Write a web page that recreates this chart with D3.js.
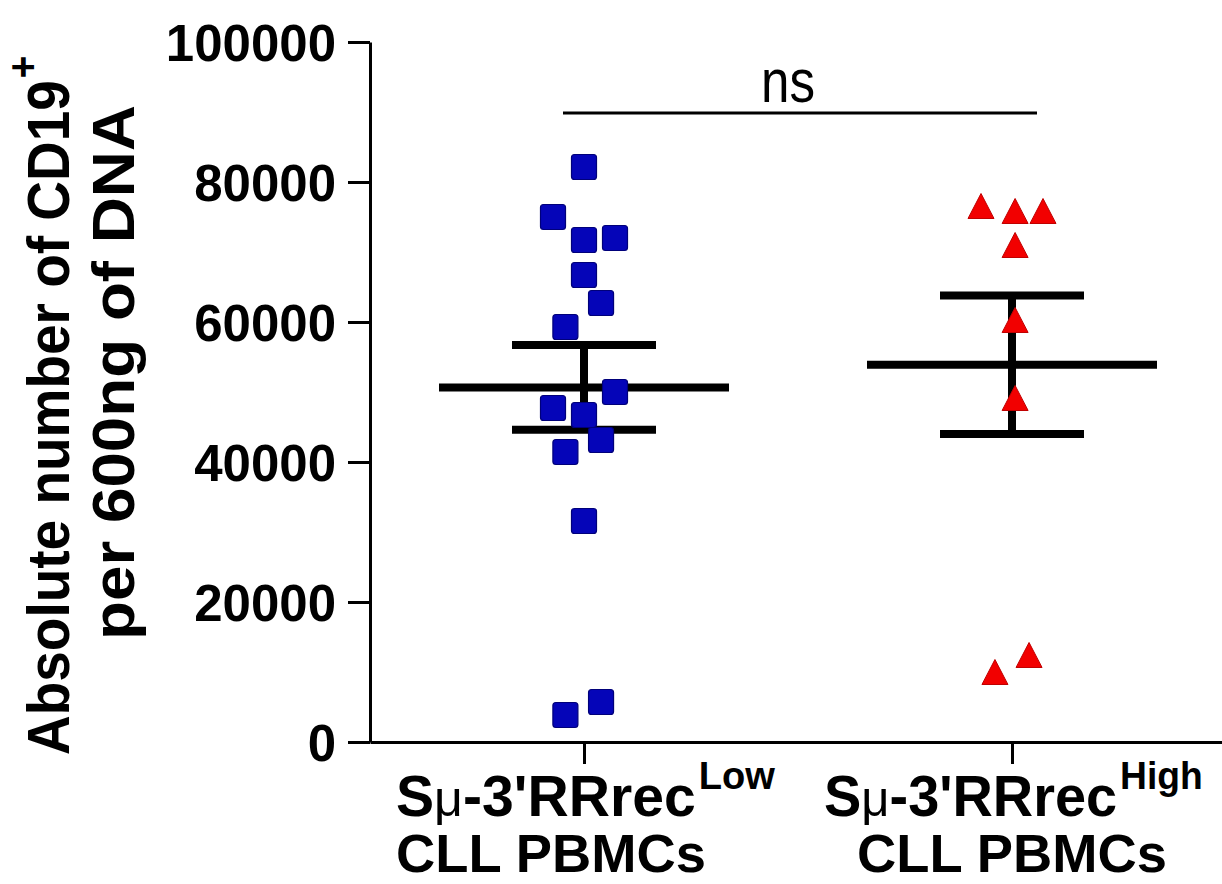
<!DOCTYPE html>
<html>
<head>
<meta charset="utf-8">
<script src="https://cdn.jsdelivr.net/npm/d3@7"></script>
<style>
  body { margin: 0; background: #fff; }
  svg { display: block; font-family: "Liberation Sans", Arial, sans-serif; }
</style>
</head>
<body>
<svg id="chart" width="1222" height="884"></svg>
<script>
// Data
var categories = ['low', 'high'];
var lowValues = [82143, 75000, 71714, 72000, 66714, 62714, 59286, 50000, 47714, 46714, 43143, 41429, 31571, 5714, 3857];
var highValues = [76571, 75857, 75857, 71000, 60286, 49143, 10000, 12429];
var yTicks = [0, 20000, 40000, 60000, 80000, 100000];
var labelTop = ['S', 'S'];
var labelSup = ['Low', 'High'];
var labelBottom = ['CLL PBMCs', 'CLL PBMCs'];
var sigLabel = 'ns';

// Horizontal scatter of the points (in marker widths) as in the figure
var lowSpread = [0, -1, 0, 1, 0, 0.55, -0.6, 1, -1, 0, 0.55, -0.6, 0, 0.55, -0.6];
var highSpread = [-1, 0.1, 1, 0.1, 0.1, 0.1, -0.55, 0.55];

// Layout
var markerStep = 31;
var svg = d3.select('#chart');

var y = d3.scaleLinear().domain([0, 100000]).range([742, 42]);
var x = d3.scalePoint().domain(categories).range([370, 1226]).padding(0.5);

// scale factor that brings a text to a given length along its baseline
function fit(g, target) {
  var len = g.select('text').node().getComputedTextLength();
  return target / len;
}

// Axes
var yAxis = d3.axisLeft(y)
  .tickValues(yTicks)
  .tickFormat(d3.format('d'))
  .tickSize(22)
  .tickSizeOuter(0)
  .tickPadding(12);

var gy = svg.append('g')
  .attr('transform', 'translate(370,0)')
  .call(yAxis);
gy.select('.domain').attr('stroke', '#000').attr('stroke-width', 3);
gy.selectAll('.tick line').attr('stroke', '#000').attr('stroke-width', 3);
gy.selectAll('.tick text')
  .attr('fill', '#000')
  .style('font-size', '51px')
  .style('font-weight', 'bold')
  .style('font-family', '"Liberation Sans", Arial, sans-serif')
  .attr('dy', '0.36em');

var xAxis = d3.axisBottom(x)
  .tickSize(22)
  .tickSizeOuter(0)
  .tickFormat('');

var gx = svg.append('g')
  .attr('transform', 'translate(0,742)')
  .call(xAxis);
gx.select('.domain').attr('stroke', '#000').attr('stroke-width', 3);
gx.selectAll('.tick line').attr('stroke', '#000').attr('stroke-width', 3);

// Mean +/- SEM
var groups = [
  {cat: 'low', values: lowValues},
  {cat: 'high', values: highValues}
];
groups.forEach(function(grp) {
  var m = d3.mean(grp.values);
  var sem = d3.deviation(grp.values) / Math.sqrt(grp.values.length);
  var cx = x(grp.cat);
  var eg = svg.append('g').attr('stroke', '#000').attr('stroke-width', 8);
  eg.append('line').attr('x1', cx).attr('x2', cx).attr('y1', y(m + sem)).attr('y2', y(m - sem));
  eg.append('line').attr('x1', cx - 145).attr('x2', cx + 145).attr('y1', y(m)).attr('y2', y(m));
  eg.append('line').attr('x1', cx - 72).attr('x2', cx + 72).attr('y1', y(m + sem)).attr('y2', y(m + sem));
  eg.append('line').attr('x1', cx - 72).attr('x2', cx + 72).attr('y1', y(m - sem)).attr('y2', y(m - sem));
});

// Squares
svg.append('g').selectAll('rect')
  .data(lowValues)
  .join('rect')
  .attr('x', function(d, i) { return x('low') + lowSpread[i] * markerStep - 12.5; })
  .attr('y', function(d) { return y(d) - 12.5; })
  .attr('width', 25)
  .attr('height', 25)
  .attr('rx', 3)
  .attr('fill', '#0505b8')
  .attr('stroke', '#00007a')
  .attr('stroke-width', 1.2);

// Triangles
svg.append('g').selectAll('path')
  .data(highValues)
  .join('path')
  .attr('d', 'M0,-12.5L13,12.5L-13,12.5Z')
  .attr('transform', function(d, i) {
    return 'translate(' + (x('high') + highSpread[i] * markerStep) + ',' + y(d) + ')';
  })
  .attr('fill', '#f20000')
  .attr('stroke', '#c00000')
  .attr('stroke-width', 1)
  .attr('stroke-linejoin', 'round');

// Significance bar
var sigY = 113;
svg.append('line')
  .attr('x1', x('low') - 21).attr('x2', x('high') + 25)
  .attr('y1', sigY).attr('y2', sigY)
  .attr('stroke', '#000').attr('stroke-width', 3);
var ns = svg.append('g');
ns.append('text').text(sigLabel)
  .style('font-size', '62px')
  .attr('text-anchor', 'middle');
ns.attr('transform', 'translate(' + ((x('low') + x('high')) / 2 - 10) + ',102) scale(' + fit(ns, 54) + ',1)');

// Y title
var t1 = svg.append('g');
var t1t = t1.append('text').style('font-size', '60px').style('font-weight', 'bold');
t1t.append('tspan').text('Absolute number of CD19');
var k1 = fit(t1, 675);
t1.attr('transform', 'translate(69,755) rotate(-90) scale(' + k1 + ',1)');
t1t.append('tspan').text('+').style('font-size', '42px').attr('dy', -32).attr('dx', 2);

var t2 = svg.append('g');
t2.append('text').text('per 600ng of DNA').style('font-size', '60px').style('font-weight', 'bold');
t2.attr('transform', 'translate(134,640) rotate(-90) scale(' + fit(t2, 535) + ',1)');

// Category labels (left one is left-aligned, right one centred, as in the figure)
var line2Align = ['start', 'middle'];
categories.forEach(function(cat, i) {
  var cx = x(cat);
  var w = 376;
  var g1 = svg.append('g');
  var tx = g1.append('text').style('font-size', '57px').style('font-weight', 'bold');
  tx.append('tspan').text(labelTop[i]);
  tx.append('tspan').text('\u03bc').style('font-size', '50px').style('font-weight', 'normal');
  tx.append('tspan').text("-3'RRrec");
  tx.append('tspan').text(labelSup[i]).style('font-size', '38px').attr('dy', -27).attr('dx', 3);
  var k = fit(g1, w);
  g1.attr('transform', 'translate(' + (cx - w / 2) + ',816) scale(' + k + ',1)');

  var w2 = 310;
  var g2 = svg.append('g');
  g2.append('text').text(labelBottom[i]).style('font-size', '54px').style('font-weight', 'bold');
  var k2 = fit(g2, w2);
  var start2 = line2Align[i] === 'start' ? cx - w / 2 : cx - w2 / 2;
  g2.attr('transform', 'translate(' + start2 + ',872) scale(' + k2 + ',1)');
});
</script>
</body>
</html>
